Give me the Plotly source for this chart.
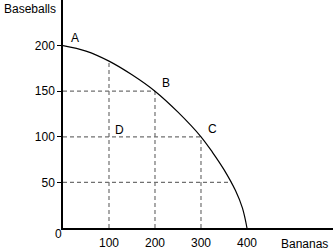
import plotly.graph_objects as go

# PPF curve
curve_x = [0, 50, 100, 150, 200, 250, 300, 325, 350, 375, 390, 400]
curve_y = [200, 194, 183, 168, 150, 127, 100, 83, 64, 41, 22, 0]

# labelled points
pt_names = ["A", "B", "C", "D"]
pt_x = [0, 200, 300, 100]
pt_y = [200, 150, 100, 100]

# dashed guide lines: vertical (x, top y) and horizontal (y, right x)
vguide_x = [100, 200, 300]
vguide_top = [183, 150, 100]
hguide_y = [50, 100, 150]
hguide_right = [366, 300, 200]

xticks = [100, 200, 300, 400]
yticks = [50, 100, 150, 200]

FONT = "Liberation Sans, Arial, sans-serif"
fig = go.Figure()

for x, t in zip(vguide_x, vguide_top):
    fig.add_trace(go.Scatter(x=[x, x], y=[0, t], mode="lines",
                             line=dict(color="#707070", width=1.2, dash="4px,3px"),
                             hoverinfo="skip", showlegend=False))
for y, r in zip(hguide_y, hguide_right):
    fig.add_trace(go.Scatter(x=[0, r], y=[y, y], mode="lines",
                             line=dict(color="#707070", width=1.2, dash="4px,3px"),
                             hoverinfo="skip", showlegend=False))

fig.add_trace(go.Scatter(x=curve_x, y=curve_y, mode="lines", line_shape="spline",
                         line=dict(color="black", width=1.2),
                         hoverinfo="skip", showlegend=False))

offsets = {"A": (26, 8), "B": (24, 9), "C": (26, 9), "D": (22, 8)}
for n, x, y in zip(pt_names, pt_x, pt_y):
    dx, dy = offsets[n]
    fig.add_annotation(x=x + dx, y=y + dy, text=n, showarrow=False,
                       font=dict(family=FONT, size=12, color="black"))

fig.add_annotation(xref="paper", yref="paper", x=-0.015, y=-0.026, text="0",
                   showarrow=False, xanchor="center", yanchor="middle",
                   font=dict(family=FONT, size=12, color="black"))
fig.add_annotation(xref="paper", yref="paper", x=-0.02, y=1.0, text="Baseballs",
                   showarrow=False, xanchor="right", yanchor="top",
                   font=dict(family=FONT, size=12, color="black"))
fig.add_annotation(xref="paper", yref="paper", x=0.99, y=-0.03, text="Bananas",
                   showarrow=False, xanchor="right", yanchor="top",
                   font=dict(family=FONT, size=12, color="black"))

fig.update_xaxes(range=[0, 587], showgrid=False, zeroline=False, showline=True,
                 linecolor="black", linewidth=1.5, tickvals=xticks,
                 ticks="outside", ticklen=3, tickcolor="rgba(0,0,0,0)",
                 tickfont=dict(family=FONT, size=12, color="black"))
fig.update_yaxes(range=[0, 250], showgrid=False, zeroline=False, showline=True,
                 linecolor="black", linewidth=1.5, tickvals=yticks,
                 ticks="outside", ticklen=4, tickcolor="black",
                 tickfont=dict(family=FONT, size=12, color="black"))

fig.update_layout(width=333, height=250, margin=dict(l=63, r=0, t=0, b=20),
                  plot_bgcolor="white", paper_bgcolor="white")
fig.write_html("out.html")
